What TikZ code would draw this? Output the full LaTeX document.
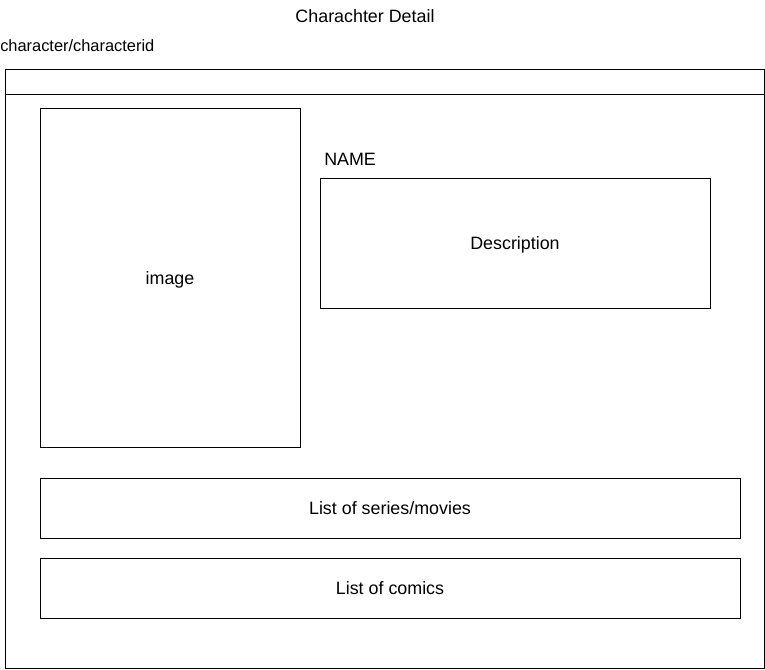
\documentclass[tikz,border=0pt]{standalone}
\usepackage{fontspec}
\setmainfont{Liberation Sans}
\tikzset{
  box/.style={draw, line width=0.75pt, inner sep=0pt, text height=10pt, text depth=0pt, font=\fontsize{13.4}{16}\selectfont},
  lbl/.style={inner sep=0pt, font=\fontsize{13.4}{16}\selectfont}
}

\begin{document}
\begin{tikzpicture}[x=0.75pt, y=-0.75pt]
    \useasboundingbox (0,0) rectangle (765,669);
    \node[lbl] (title) at (365,16) {Charachter Detail};
    \node[lbl, anchor=west, font=\fontsize{12.3}{14}\selectfont] (url) at (0,46) {character/characterid};
    \node[box, minimum width=569.25pt, minimum height=449.25pt] (page) at (384.5,368.5) {};
    \coordinate (bar) at (0,94);
    \draw[line width=0.75pt] (page.west |- bar) -- (page.east |- bar);
    \node[box, minimum width=195pt, minimum height=254.25pt] (image) at (170,277.5) {image};
    \node[lbl, anchor=west] (name) at (324,159) {NAME};
    \node[box, minimum width=292.5pt, minimum height=97.5pt] (desc) at (515,243) {Description};
    \node[box, minimum width=525pt, minimum height=45pt] (series) at (390,508) {List of series/movies};
    \node[box, minimum width=525pt, minimum height=45pt] (comics) at (390,588) {List of comics};
  \end{tikzpicture}
\end{document}
